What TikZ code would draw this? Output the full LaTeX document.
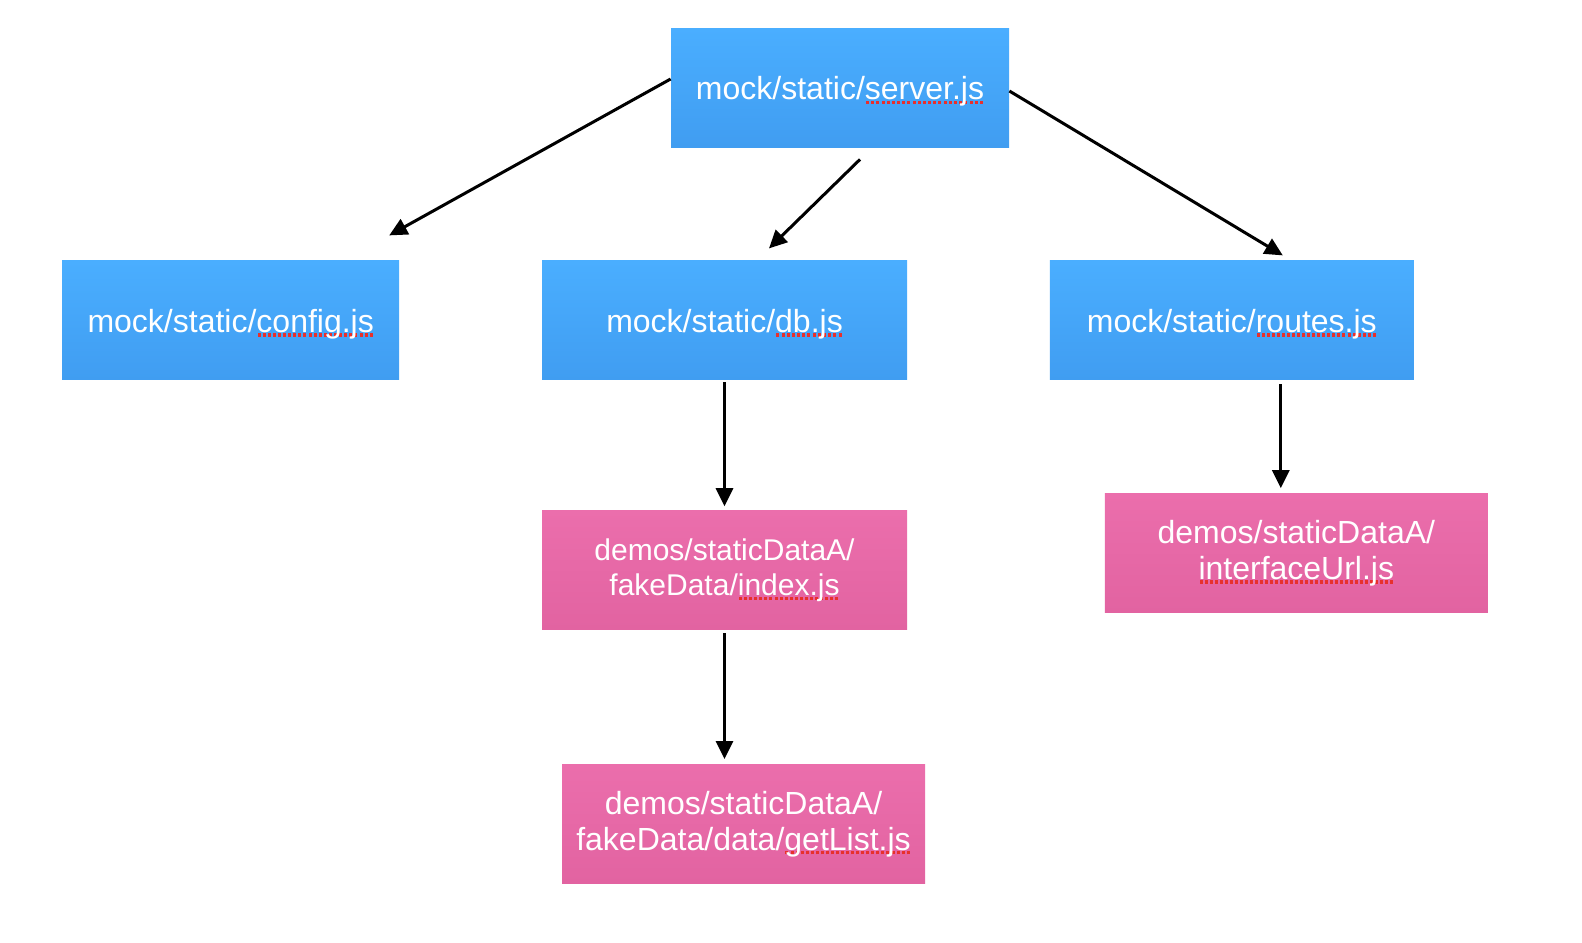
\documentclass[tikz,border=0pt]{standalone}
\usepackage{fontspec}
\setmainfont{Liberation Sans}
\usetikzlibrary{arrows.meta,positioning}

\definecolor{mockblue}{HTML}{4AAEFF}
\definecolor{mockbluedeep}{HTML}{409DF1}
\definecolor{demopink}{HTML}{EB6EAC}
\definecolor{demopinkdeep}{HTML}{E263A1}
\definecolor{spellred}{HTML}{E8302C}

% red dotted spell-check line under a word
\newcommand\spellmark[1]{\setbox0=\hbox{#1}\rlap{\raisebox{-2.1pt}[0pt][0pt]{\color{spellred}\hbox to\wd0{\xleaders\hbox to 2.5pt{\hss\rule{1.5pt}{1.6pt}\hss}\hfill}}}\box0}

\tikzset{
  file/.style={text=white, align=center, inner sep=0pt,
    minimum height=59.5pt, font=\fontsize{16}{18}\selectfont},
  mockfile/.style={file, top color=mockblue, bottom color=mockbluedeep,
    text height=15.5pt, text depth=3.5pt},
  demofile/.style={file, top color=demopink, bottom color=demopinkdeep},
  link/.style={-{Triangle[length=9pt,width=8.5pt]}, line width=1.5pt}
}

\begin{document}
\begin{tikzpicture}[x=0.5pt, y=-0.5pt]
 \useasboundingbox (0,0) rectangle (1582,942);

 \node[mockfile, minimum width=169pt] (server) at (840,87.5) {mock/static/\spellmark{server.js}};
 \node[mockfile, minimum width=182.5pt] (db) [below=56.5pt of server, xshift=-57.75pt] {mock/static/\spellmark{db.js}};
 \node[mockfile, minimum width=168.5pt] (config) [left=71pt of db] {mock/static/\spellmark{config.js}};
 \node[mockfile, minimum width=182pt] (routes) [right=71pt of db] {mock/static/\spellmark{routes.js}};
 \node[demofile, minimum width=182.5pt, font=\fontsize{15}{17.7}\selectfont] (index) [below=65pt of db] {demos/staticDataA/\\fakeData/\spellmark{index.js}};
 \node[demofile, minimum width=191.5pt] (url) [below=57pt of routes, xshift=32.25pt, yshift=0.5pt] {demos/staticDataA/\\\spellmark{interfaceUrl.js}};
 \node[demofile, minimum width=181.5pt] (getlist) [below=67pt of index, xshift=9.5pt] {demos/staticDataA/\\fakeData/data/\spellmark{getList.js}};

 % free ends of the arrows
 \coordinate (configtip) at ([xshift=79.25pt, yshift=12.5pt]config.north);
 \coordinate (dbtail) at ([xshift=10pt, yshift=-6pt]server.south);
 \coordinate (dbtip) at ([xshift=22.25pt, yshift=6pt]db.north);
 \coordinate (routestip) at ([xshift=25.5pt, yshift=2.5pt]routes.north);
 \coordinate (urltail) at ([xshift=24.5pt, yshift=-2pt]routes.south);
 \coordinate (urltip) at (urltail |- url.north);
 \coordinate (listtip) at (index.south |- getlist.north);

 \draw[link] ([yshift=4.25pt]server.west) -- (configtip);
 \draw[link] (dbtail) -- (dbtip);
 \draw[link] ([yshift=-1.75pt]server.east) -- (routestip);
 \draw[link, shorten <=1pt, shorten >=2pt] (db) -- (index);
 \draw[link, shorten >=2.5pt] (urltail) -- (urltip);
 \draw[link, shorten <=1.5pt, shorten >=2.5pt] (index.south) -- (listtip);
\end{tikzpicture}
\end{document}
